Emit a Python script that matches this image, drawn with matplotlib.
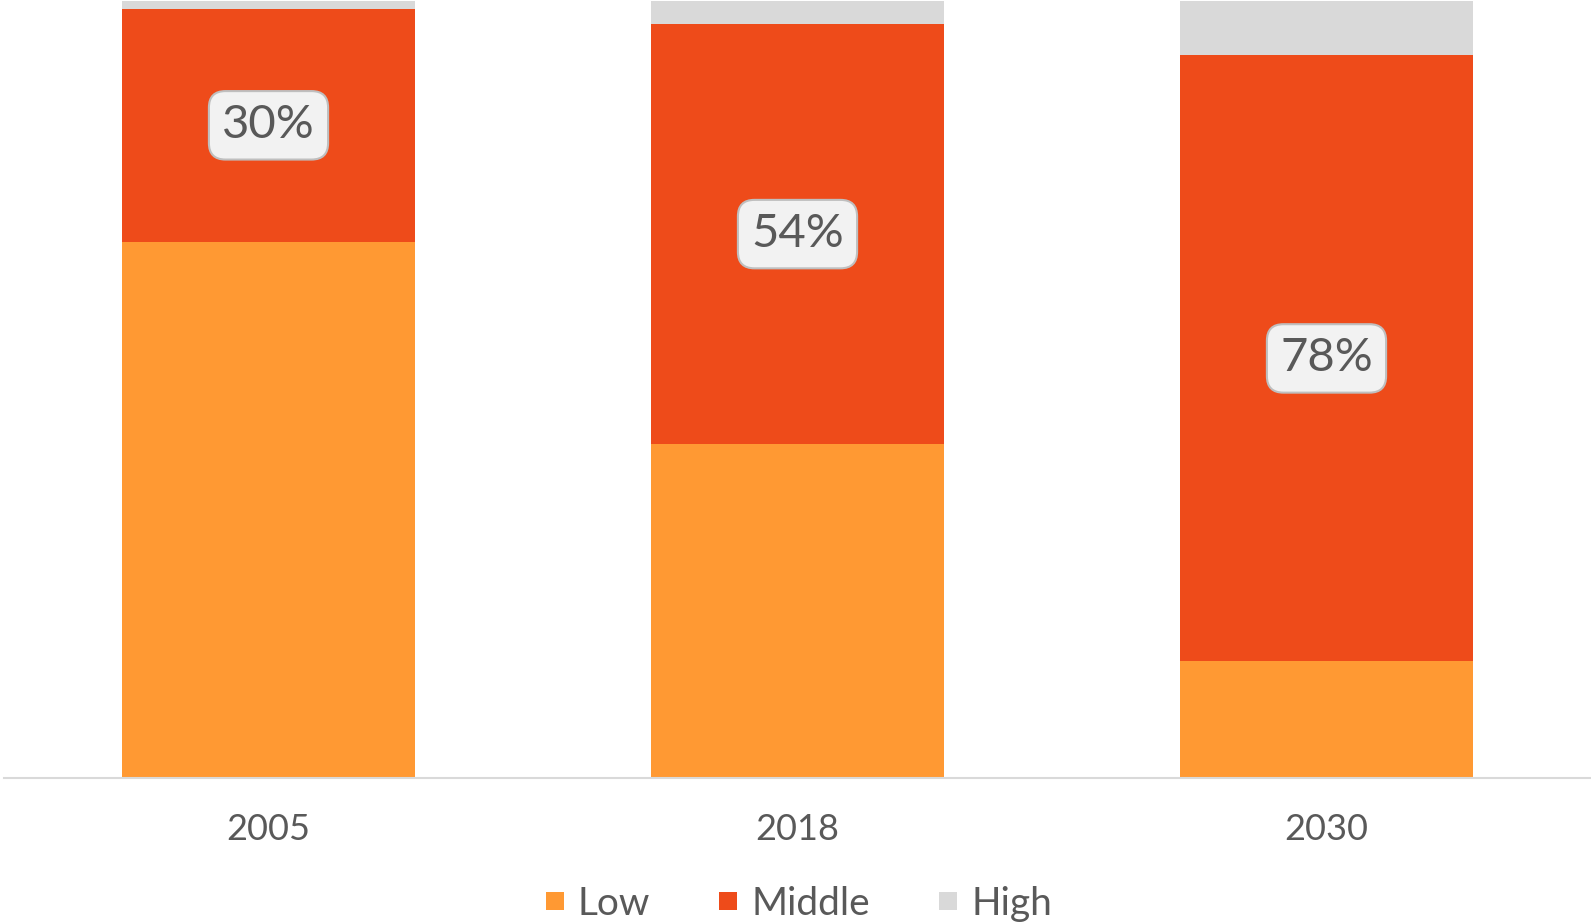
import matplotlib.pyplot as plt
from matplotlib.lines import Line2D
import numpy as np

# === DATA ===
years = ["2005", "2018", "2030"]
low = [69, 43, 15]
middle = [30, 54, 78]
high = [1, 3, 7]
middle_labels = ["30%", "54%", "78%"]

COLORS = {"Low": "#FF9933", "Middle": "#EE4B1A", "High": "#D9D9D9"}
TEXT = "#595959"

plt.rcParams['font.family'] = ['Lato', 'DejaVu Sans']

fig = plt.figure(figsize=(15.91, 9.22), dpi=100)
ax = fig.add_axes([4 / 1591, 144 / 922, 1587 / 1591, 777 / 922])

x = np.arange(len(years))
w = 0.552
low_a = np.array(low)
mid_a = np.array(middle)
high_a = np.array(high)

ax.bar(x, low_a, w, color=COLORS["Low"], linewidth=0)
ax.bar(x, mid_a, w, bottom=low_a, color=COLORS["Middle"], linewidth=0)
ax.bar(x, high_a, w, bottom=low_a + mid_a, color=COLORS["High"], linewidth=0)

# labels on middle segment
for xi, lo, mi, lab in zip(x, low_a, mid_a, middle_labels):
    ax.text(xi, lo + mi / 2, lab, ha='center', va='center', fontsize=34, color=TEXT,
            bbox=dict(boxstyle='round,pad=0.28,rounding_size=0.35', fc='#F2F2F2',
                      ec='#BFBFBF', lw=1.5))

ax.set_xlim(-0.5, 2.5)
ax.set_ylim(0, 100)
ax.set_xticks(x)
ax.set_xticklabels(years, fontsize=26, color=TEXT)
ax.tick_params(axis='x', length=0, pad=25)
ax.set_yticks([])
for s in ['top', 'right', 'left']:
    ax.spines[s].set_visible(False)
ax.spines['bottom'].set_color('#D9D9D9')
ax.spines['bottom'].set_linewidth(1.5)

# legend
handles = [Line2D([0], [0], marker='s', linestyle='', markersize=13,
                  markerfacecolor=COLORS[k], markeredgewidth=0, label=k)
           for k in ["Low", "Middle", "High"]]
fig.legend(handles=handles, loc='center', bbox_to_anchor=(0.5, 1 - 904 / 922), ncol=3,
           frameon=False, fontsize=28, labelcolor=TEXT, handletextpad=0.2,
           columnspacing=1.6, handlelength=0.8)

plt.savefig('out.png', dpi=100)
